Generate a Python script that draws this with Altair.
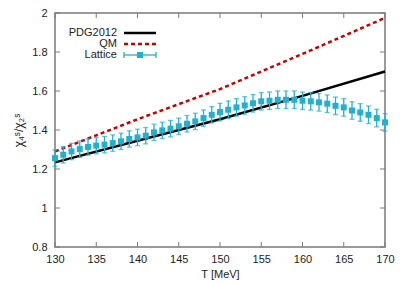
import altair as alt
import pandas as pd

# ---- data ----
pdg_T = [130, 140, 150, 160, 170]
pdg_v = [1.234, 1.345, 1.455, 1.575, 1.700]

qm_T = [130, 140, 150, 160, 170]
qm_v = [1.29, 1.455, 1.61, 1.79, 1.975]

lat_T = list(range(130, 171))
lat_v = [1.256, 1.273, 1.290, 1.302, 1.313, 1.320, 1.325, 1.333, 1.342, 1.354,
         1.362, 1.371, 1.388, 1.398, 1.407, 1.419, 1.432, 1.444, 1.461, 1.478,
         1.492, 1.504, 1.516, 1.526, 1.537, 1.547, 1.550, 1.555, 1.555, 1.555,
         1.550, 1.547, 1.542, 1.535, 1.524, 1.516, 1.500, 1.490, 1.478, 1.461,
         1.439]
lat_err = [0.042] * 20 + [0.045] * 21

x_ticks = [130, 135, 140, 145, 150, 155, 160, 165, 170]
y_ticks = [0.8, 1.0, 1.2, 1.4, 1.6, 1.8, 2.0]

legend_labels = ["PDG2012", "QM", "Lattice"]

BLACK = "#000000"
RED = "#c80000"
CYAN = "#1fb0d2"
GREY = "#7a7a7a"
FONT = "Liberation Sans"

W, H = 330, 234

pdg = pd.DataFrame({"T": pdg_T, "v": pdg_v})
qm = pd.DataFrame({"T": qm_T, "v": qm_v})
lat = pd.DataFrame({"T": lat_T, "v": lat_v, "e": lat_err})
lat["lo"] = lat["v"] - lat["e"]
lat["hi"] = lat["v"] + lat["e"]

xs = alt.Scale(domain=[130, 170], nice=False, zero=False)
ys = alt.Scale(domain=[0.8, 2.0], nice=False, zero=False)

xaxis = alt.Axis(values=x_ticks, title="T [MeV]", ticks=False, grid=False,
                 domain=False, labelFont=FONT, labelFontSize=11,
                 labelColor="#222222", labelPadding=6, labelFlush=False,
                 labelOverlap=False, titleFont=FONT,
                 titleFontSize=11, titleFontWeight="normal",
                 titleColor="#222222", titlePadding=4)
yaxis = alt.Axis(values=y_ticks, title="χ₄ˢ/χ₂ˢ", ticks=False, grid=False,
                 domain=False, labelExpr="format(datum.value, '.1~f')",
                 labelFont=FONT, labelFontSize=11,
                 labelColor="#222222", labelPadding=8, labelFlush=False,
                 labelOverlap=False, titleFont=FONT,
                 titleFontSize=12, titleFontWeight="normal", titleColor="#222222",
                 titlePadding=6)


def X(f):
    return alt.X(f, scale=xs, axis=xaxis)


def Y(f):
    return alt.Y(f, scale=ys, axis=yaxis)


base_pdg = alt.Chart(pdg).mark_line(color=BLACK, strokeWidth=2.5).encode(
    x=X("T:Q"), y=Y("v:Q"))
base_qm = alt.Chart(qm).mark_line(color=RED, strokeWidth=2.5, strokeDash=[4, 3]).encode(
    x=X("T:Q"), y=Y("v:Q"))

lat_bars = alt.Chart(lat).mark_rule(color=CYAN, strokeWidth=1.3).encode(
    x=X("T:Q"), y=Y("lo:Q"), y2="hi:Q")
lat_cap_lo = alt.Chart(lat).mark_tick(color=CYAN, orient="horizontal", size=5,
                                      thickness=1.3).encode(
    x=X("T:Q"), y=Y("lo:Q"))
lat_cap_hi = alt.Chart(lat).mark_tick(color=CYAN, orient="horizontal", size=5,
                                      thickness=1.3).encode(
    x=X("T:Q"), y=Y("hi:Q"))
lat_pts = alt.Chart(lat).mark_square(color=CYAN, size=36, opacity=1).encode(
    x=X("T:Q"), y=Y("v:Q"))

# inward ticks on all four sides
xt = pd.DataFrame({"T": x_ticks})
yt = pd.DataFrame({"v": y_ticks})
tk_bot = alt.Chart(xt).mark_rule(color=GREY, strokeWidth=1).encode(
    x=X("T:Q"), y=alt.value(H), y2=alt.value(H - 5))
tk_top = alt.Chart(xt).mark_rule(color=GREY, strokeWidth=1).encode(
    x=X("T:Q"), y=alt.value(0), y2=alt.value(5))
tk_left = alt.Chart(yt).mark_rule(color=GREY, strokeWidth=1).encode(
    y=Y("v:Q"), x=alt.value(0), x2=alt.value(5))
tk_right = alt.Chart(yt).mark_rule(color=GREY, strokeWidth=1).encode(
    y=Y("v:Q"), x=alt.value(W), x2=alt.value(W - 5))

# legend (gnuplot style, text left of sample)
LX_TEXT, LX0, LX1 = 62, 69, 101
ROWS = [20, 31, 42]
leg_text = [
    alt.Chart(pd.DataFrame({"label": [lab]})).mark_text(
        align="right", baseline="middle", font=FONT, fontSize=11, color="#222222"
    ).encode(text="label:N", x=alt.value(LX_TEXT), y=alt.value(ry))
    for lab, ry in zip(legend_labels, ROWS)
]
one = pd.DataFrame({"a": [0]})
leg_pdg = alt.Chart(one).mark_rule(color=BLACK, strokeWidth=2.5).encode(
    x=alt.value(LX0), x2=alt.value(LX1), y=alt.value(ROWS[0]))
leg_qm = alt.Chart(one).mark_rule(
    color=RED, strokeWidth=2.5, strokeDash=[4, 3]).encode(
    x=alt.value(LX0), x2=alt.value(LX1), y=alt.value(ROWS[1]))
leg_lat = alt.Chart(one).mark_rule(color=CYAN, strokeWidth=1.3).encode(
    x=alt.value(LX0), x2=alt.value(LX1), y=alt.value(ROWS[2]))
leg_cap1 = alt.Chart(one).mark_rule(color=CYAN, strokeWidth=1.3).encode(
    x=alt.value(LX0), y=alt.value(ROWS[2] - 3), y2=alt.value(ROWS[2] + 3))
leg_cap2 = alt.Chart(one).mark_rule(color=CYAN, strokeWidth=1.3).encode(
    x=alt.value(LX1), y=alt.value(ROWS[2] - 3), y2=alt.value(ROWS[2] + 3))
leg_sq = alt.Chart(one).mark_square(color=CYAN, size=36, opacity=1).encode(
    x=alt.value((LX0 + LX1) / 2), y=alt.value(ROWS[2]))

chart = alt.layer(
    base_pdg, base_qm, lat_bars, lat_cap_lo, lat_cap_hi, lat_pts,
    tk_bot, tk_top, tk_left, tk_right,
    *leg_text, leg_pdg, leg_qm, leg_lat, leg_cap1, leg_cap2, leg_sq,
).properties(
    width=W, height=H,
    autosize=alt.AutoSizeParams(type="none"),
    padding={"left": 47, "top": 5, "right": 12, "bottom": 37},
    background="white",
).configure_view(stroke=GREY, strokeWidth=1.5).configure_axis(
    labelOverlap=False, labelFlush=False
)

chart.save("out.html", embed_options={"renderer": "svg", "actions": False})
